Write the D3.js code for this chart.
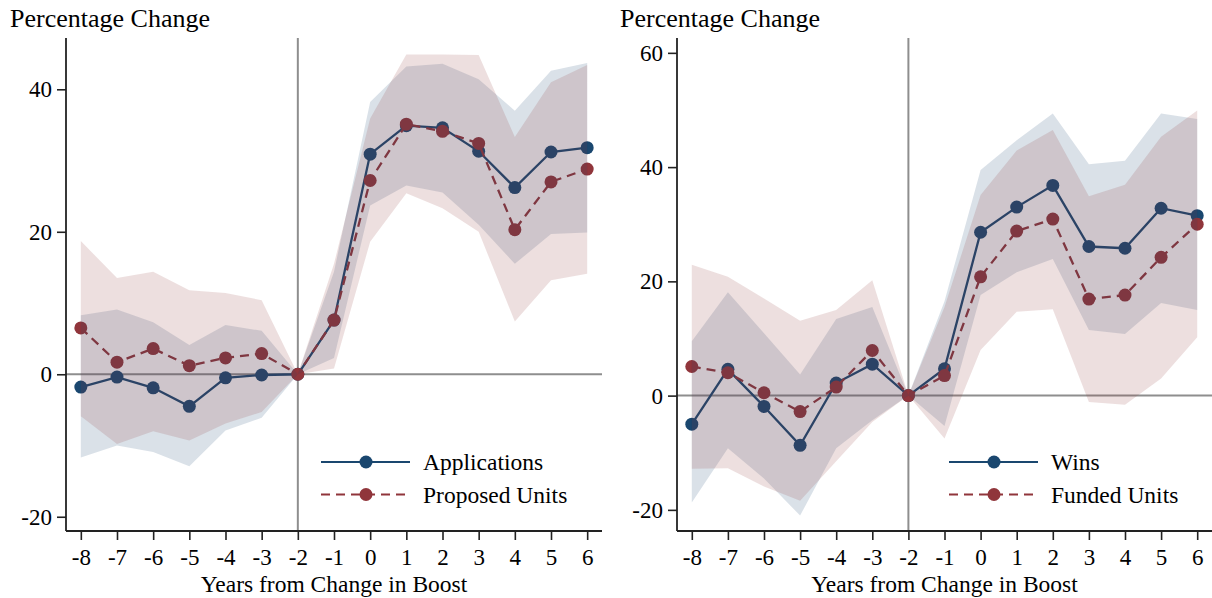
<!DOCTYPE html>
<html>
<head>
<meta charset="utf-8">
<script src="https://cdn.jsdelivr.net/npm/d3@7"></script>
<style>
  html, body { margin: 0; padding: 0; background: #fff; }
  svg { display: block; font-family: "Liberation Serif", "Times New Roman", serif; }
</style>
</head>
<body>
<svg id="chart" width="1212" height="598"></svg>
<script>
// Event-study estimates, years relative to the change in boost (-2 is the omitted year)
const years = [-8, -7, -6, -5, -4, -3, -2, -1, 0, 1, 2, 3, 4, 5, 6];
const xTicks = years;

// Left panel: applications and proposed units
const applications   = [-1.8, -0.4, -1.9, -4.5, -0.5, -0.1, 0, 7.6, 30.9, 34.9, 34.6, 31.3, 26.2, 31.2, 31.8];
const applicationsLo = [-11.7, -10.0, -10.9, -12.9, -7.9, -6.1, 0, 2.3, 23.7, 26.5, 25.5, 21.0, 15.5, 19.7, 19.9];
const applicationsHi = [8.3, 9.1, 7.3, 4.1, 6.9, 6.1, 0, 14.4, 38.2, 43.2, 43.6, 41.4, 37.0, 42.6, 43.7];
const proposed       = [6.5, 1.7, 3.6, 1.2, 2.3, 2.9, 0, 7.6, 27.2, 35.1, 34.1, 32.4, 20.3, 27.0, 28.8];
const proposedLo     = [-5.9, -9.8, -8.0, -9.3, -6.9, -5.3, 0, 0.8, 18.6, 25.4, 23.3, 20.0, 7.4, 13.2, 14.1];
const proposedHi     = [18.7, 13.5, 14.4, 11.8, 11.4, 10.4, 0, 15.5, 35.9, 44.9, 44.9, 44.8, 33.3, 41.0, 43.4];
const leftYTicks = [-20, 0, 20, 40];

// Right panel: wins and funded units
const wins     = [-5.0, 4.6, -1.9, -8.7, 2.2, 5.5, 0, 4.7, 28.6, 33.0, 36.8, 26.1, 25.8, 32.8, 31.5];
const winsLo   = [-18.7, -9.2, -14.5, -21.0, -9.2, -4.3, 0, -5.3, 17.6, 21.6, 23.9, 11.5, 10.8, 16.2, 15.0];
const winsHi   = [9.5, 18.1, 10.9, 3.7, 13.4, 15.5, 0, 16.5, 39.5, 44.7, 49.4, 40.5, 41.1, 49.4, 48.4];
const funded   = [5.1, 4.0, 0.5, -2.8, 1.5, 7.9, 0, 3.5, 20.8, 28.8, 30.9, 16.9, 17.6, 24.2, 30.0];
const fundedLo = [-12.8, -12.7, -15.9, -18.4, -11.5, -4.6, 0, -7.5, 8.0, 14.7, 15.1, -1.1, -1.6, 3.0, 10.2];
const fundedHi = [22.9, 20.8, 17.0, 13.1, 15.0, 20.2, 0, 15.5, 35.1, 42.9, 46.5, 34.9, 36.9, 45.3, 49.9];
const rightYTicks = [-20, 0, 20, 40, 60];

const NAVY = "rgb(26,71,111)";
const MAROON = "rgb(144,53,59)";
const REF = "#8e8e8e";
const BAND_OPACITY = 0.16;

const svg = d3.select("#chart");

function drawPanel(p) {
  const x = d3.scaleLinear().domain([-8.41, 6.41]).range([p.left, p.right]);
  const y = d3.scaleLinear().domain(p.yDomain).range([p.bottom, p.top]);
  const g = svg.append("g");

  // reference lines at zero effect and at the omitted year
  g.append("line").attr("x1", p.left).attr("x2", p.right)
    .attr("y1", y(0)).attr("y2", y(0))
    .attr("stroke", REF).attr("stroke-width", 2);
  g.append("line").attr("x1", x(-2)).attr("x2", x(-2))
    .attr("y1", p.top).attr("y2", p.bottom)
    .attr("stroke", REF).attr("stroke-width", 2);

  const line = d3.line().x((d, i) => x(years[i])).y(d => y(d));

  p.series.forEach(s => {
    g.append("path").datum(s.values)
      .attr("d", line).attr("fill", "none")
      .attr("stroke", s.color).attr("stroke-width", 2.3)
      .attr("stroke-dasharray", s.dash ? "9,6" : null);
    g.selectAll(null).data(s.values).enter().append("circle")
      .attr("cx", (d, i) => x(years[i])).attr("cy", d => y(d))
      .attr("r", 6.5).attr("fill", s.color);
  });

  // confidence bands on top of the estimates
  const area = d3.area()
    .x((d, i) => x(years[i]))
    .y0(d => y(d[0])).y1(d => y(d[1]));
  p.series.forEach(s => {
    g.append("path").datum(s.lo.map((v, i) => [v, s.hi[i]]))
      .attr("d", area).attr("fill", s.color).attr("fill-opacity", BAND_OPACITY);
  });

  // axes
  const xAxis = d3.axisBottom(x).tickValues(xTicks).tickSize(9).tickPadding(7)
    .tickFormat(d3.format("d"));
  const gx = g.append("g").attr("transform", `translate(0,${p.bottom})`).call(xAxis);
  const yAxis = d3.axisLeft(y).tickValues(p.yTicks).tickSize(9).tickPadding(5)
    .tickFormat(d3.format("d"));
  const gy = g.append("g").attr("transform", `translate(${p.left},0)`).call(yAxis);
  [gx, gy].forEach(a => {
    a.select(".domain").remove();
    a.selectAll(".tick line").attr("stroke", "#222").attr("stroke-width", 1.6);
    a.selectAll(".tick text").attr("fill", "#000").style("font-size", "23px")
      .style("font-family", "'Liberation Serif', 'Times New Roman', serif")
      .text(d => String(d));
  });
  gx.selectAll(".tick text").attr("dy", "0.78em");
  gy.selectAll(".tick text").attr("dy", "0.33em");

  g.append("line").attr("x1", p.left).attr("x2", p.right)
    .attr("y1", p.bottom).attr("y2", p.bottom)
    .attr("stroke", "#222").attr("stroke-width", 1.8);
  g.append("line").attr("x1", p.left).attr("x2", p.left)
    .attr("y1", p.top).attr("y2", p.bottom)
    .attr("stroke", "#222").attr("stroke-width", 1.8);

  // titles
  g.append("text").attr("x", p.titleX).attr("y", 27)
    .style("font-size", "26px").text("Percentage Change");
  g.append("text").attr("x", (p.left + p.right) / 2).attr("y", 592)
    .attr("text-anchor", "middle").style("font-size", "23.5px")
    .text("Years from Change in Boost");

  // legend
  p.series.forEach((s, i) => {
    const ly = 462 + i * 32.5;
    g.append("line").attr("x1", p.legendX).attr("x2", p.legendX + 89)
      .attr("y1", ly).attr("y2", ly)
      .attr("stroke", s.color).attr("stroke-width", 2)
      .attr("stroke-dasharray", s.dash ? "9,6" : null);
    g.append("circle").attr("cx", p.legendX + 45).attr("cy", ly)
      .attr("r", 6.5).attr("fill", s.color);
    g.append("text").attr("x", p.legendX + 102).attr("y", ly).attr("dy", "0.35em")
      .style("font-size", "23.5px").text(s.name);
  });
}

drawPanel({
  left: 66, right: 602, top: 38, bottom: 531,
  yDomain: [-22.0, 47.2], yTicks: leftYTicks,
  titleX: 10, legendX: 321,
  series: [
    { name: "Applications", values: applications, lo: applicationsLo, hi: applicationsHi, color: NAVY, dash: false },
    { name: "Proposed Units", values: proposed, lo: proposedLo, hi: proposedHi, color: MAROON, dash: true }
  ]
});

drawPanel({
  left: 677, right: 1212, top: 38, bottom: 531,
  yDomain: [-23.7, 62.6], yTicks: rightYTicks,
  titleX: 620, legendX: 949,
  series: [
    { name: "Wins", values: wins, lo: winsLo, hi: winsHi, color: NAVY, dash: false },
    { name: "Funded Units", values: funded, lo: fundedLo, hi: fundedHi, color: MAROON, dash: true }
  ]
});
</script>
</body>
</html>
